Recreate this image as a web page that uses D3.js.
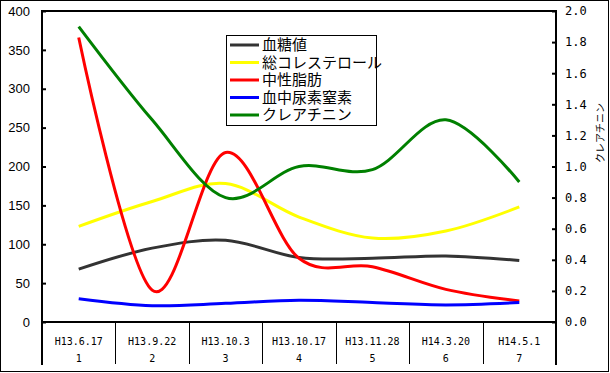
<!DOCTYPE html>
<html>
<head>
    <meta charset="utf-8">
    <title>検査値推移</title>
    <script src="https://d3js.org/d3.v7.min.js"></script>
    <style>
        body{margin:0;background:#fff;}
    </style>
</head>
<body>
    <script>
var w=610;
var h=373;

// データ
var dates=["H13.6.17","H13.9.22","H13.10.3","H13.10.17","H13.11.28","H14.3.20","H14.5.1"];
var nums=["1","2","3","4","5","6","7"];
var kettouchi=[68,95,105,83,82,85,79];          // 血糖値
var cholesterol=[123,155,178,135,108,117,148];  // 総コレステロール
var chuseishibou=[366,41,218,82,71,42,27];       // 中性脂肪
var bun=[30,21,24,28,25,22,25];                  // 血中尿素窒素
var creatinine=[1.9,1.3,0.8,1.0,0.98,1.3,0.9];   // クレアチニン (右軸)
var leftTicks=[0,50,100,150,200,250,300,350,400];
var rightTicks=[0,0.2,0.4,0.6,0.8,1.0,1.2,1.4,1.6,1.8,2.0];

var series=[
    {name:"血糖値",values:kettouchi,color:"#333333",axis:"left"},
    {name:"総コレステロール",values:cholesterol,color:"#ffff00",axis:"left"},
    {name:"中性脂肪",values:chuseishibou,color:"#ff0000",axis:"left"},
    {name:"血中尿素窒素",values:bun,color:"#0000ff",axis:"left"},
    {name:"クレアチニン",values:creatinine,color:"#008000",axis:"right"}
];

// プロット領域 (window.top と衝突しないよう名前を変える)
var pL=42,pR=556,pT=11,pB=322;

var svg=d3.select("body").append("svg")
    .attr("width",w)
    .attr("height",h);

// 外枠
svg.append("rect")
    .attr("x",0.5).attr("y",0.5)
    .attr("width",608).attr("height",371)
    .attr("fill","none").attr("stroke","#000");

var x=d3.scaleBand().domain(dates).range([pL,pR]);
var yL=d3.scaleLinear().domain([0,400]).range([pB,pT]);
var yR=d3.scaleLinear().domain([0,2]).range([pB,pT]);

// 左軸
var axL=svg.append("g")
    .attr("transform","translate("+pL+",0)")
    .call(d3.axisLeft(yL).tickValues(leftTicks).tickSizeInner(-4).tickSizeOuter(0).tickPadding(12));
axL.select(".domain").remove();
axL.selectAll("line").attr("stroke-width",2);
axL.selectAll("text")
    .style("font-family","'Liberation Sans',Arial,sans-serif")
    .style("font-size","13px")
    .attr("fill","#000");

// 右軸
var axR=svg.append("g")
    .attr("transform","translate("+pR+",0)")
    .call(d3.axisRight(yR).tickValues(rightTicks).tickFormat(d3.format(".1f")).tickSizeInner(-4).tickSizeOuter(0).tickPadding(9));
axR.select(".domain").remove();
axR.selectAll("line").attr("stroke-width",2);
axR.selectAll("text")
    .style("font-family","'DejaVu Sans Mono',monospace")
    .style("font-size","12px")
    .attr("fill","#000");

// 右軸タイトル
svg.append("text")
    .attr("transform","translate(600,133) rotate(-90)")
    .attr("text-anchor","middle")
    .attr("dy","0.35em")
    .style("font-family","'Noto Sans CJK JP',sans-serif")
    .style("font-size","10px")
    .text("クレアチニン");

// 横軸 (日付と番号)
var axB=svg.append("g")
    .attr("transform","translate(0,"+pB+")")
    .call(d3.axisBottom(x).tickSize(0).tickPadding(16));
axB.select(".domain").remove();
axB.selectAll("text")
    .style("font-family","'DejaVu Sans Mono',monospace")
    .style("font-size","10px")
    .attr("fill","#000");
axB.selectAll(".tick").append("text")
    .attr("y",40)
    .attr("fill","#000")
    .style("font-family","'DejaVu Sans Mono',monospace")
    .style("font-size","10px")
    .attr("text-anchor","middle")
    .text(function(d,i){return nums[i];});

// 区切り線
svg.selectAll(".divider")
    .data(dates.slice(1))
    .enter()
    .append("line")
    .attr("class","divider")
    .attr("x1",function(d){return Math.round(x(d))+0.5;})
    .attr("x2",function(d){return Math.round(x(d))+0.5;})
    .attr("y1",pB).attr("y2",364)
    .attr("stroke","#000");

// 枠線
var frame=svg.append("g").attr("stroke","#000").attr("stroke-width",2).attr("fill","none");
frame.append("line").attr("x1",pL).attr("x2",pL).attr("y1",pT-1).attr("y2",365);
frame.append("line").attr("x1",pR).attr("x2",pR).attr("y1",pT-1).attr("y2",365);
frame.append("line").attr("x1",pL).attr("x2",pR).attr("y1",pT).attr("y2",pT);
frame.append("line").attr("x1",pL).attr("x2",pR).attr("y1",pB).attr("y2",pB);

// 折れ線 (平滑化)
var bw=x.bandwidth();
series.forEach(function(s){
    var y=s.axis==="left"?yL:yR;
    var line=d3.line()
        .x(function(d,i){return x(dates[i])+bw/2;})
        .y(function(d){return y(d);})
        .curve(d3.curveCardinal.tension(0));
    svg.append("path")
        .datum(s.values)
        .attr("d",line)
        .attr("fill","none")
        .attr("stroke",s.color)
        .attr("stroke-width",3);
});

// 凡例
var lg=svg.append("g");
lg.append("rect")
    .attr("x",226.5).attr("y",35.5)
    .attr("width",150).attr("height",90)
    .attr("fill","#fff").attr("stroke","#000");
var item=lg.selectAll(".item")
    .data(series)
    .enter()
    .append("g")
    .attr("transform",function(d,i){return "translate(0,"+(45+i*17.5)+")";});
item.append("line")
    .attr("x1",230).attr("x2",259)
    .attr("stroke",function(d){return d.color;})
    .attr("stroke-width",3);
item.append("text")
    .attr("x",262)
    .attr("dy","0.35em")
    .style("font-family","'Noto Sans CJK JP',sans-serif")
    .style("font-size","15px")
    .text(function(d){return d.name;});
    </script>
</body>
</html>
